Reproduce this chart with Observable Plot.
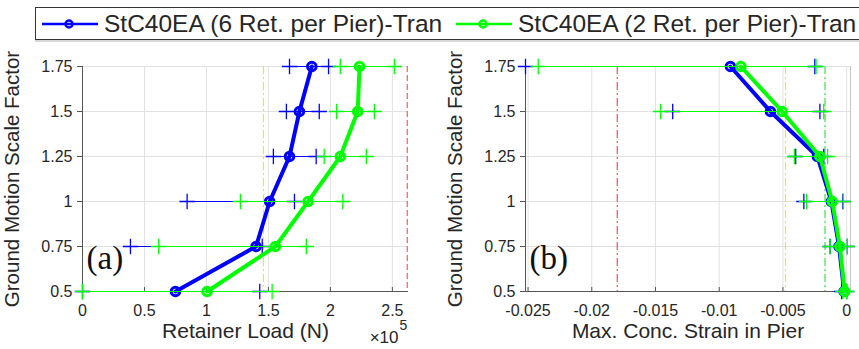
<!DOCTYPE html>
<html>
<head>
<meta charset="utf-8">
<script src="https://cdn.jsdelivr.net/npm/d3@7"></script>
<script src="https://cdn.jsdelivr.net/npm/@observablehq/plot@0.6"></script>
<style>
  body { margin: 0; background: #fff; }
  #wrap { position: relative; width: 859px; height: 349px; overflow: hidden; font-family: "Liberation Sans", Arial, sans-serif; }
  #legend { position: absolute; left: 35px; top: 7px; width: 860px; height: 31px; border: 1.5px solid #333; box-shadow: 0 2px 0 #d8d8d8; background: #fff; z-index: 2; }
  .item { position: absolute; top: 0; height: 31px; display: flex; align-items: center; font-size: 24.5px; color: #262626; white-space: nowrap; }
  .item svg { margin-right: 6px; }
  #left, #right { position: absolute; top: 40px; }
  #left { left: 0; }
  #right { left: 430px; }
</style>
</head>
<body>
<div id="wrap">
  <div id="legend"></div>
  <div id="left"></div>
  <div id="right"></div>
</div>
<script>
// ---------- data ----------
const scaleFactors = [0.5, 0.75, 1, 1.25, 1.5, 1.75];
const yTickLabels = ["0.5", "0.75", "1", "1.25", "1.5", "1.75"];
const seriesNames = ["StC40EA (6 Ret. per Pier)-Tran", "StC40EA (2 Ret. per Pier)-Tran"];
const seriesColors = ["#0000ff", "#00ff00"];

// Panel (a): retainer load (×10^5 N)
const loadMed6 = [0.75, 1.40, 1.51, 1.67, 1.75, 1.85];
const loadLo6  = [0.0, 0.387, 0.844, 1.54, 1.645, 1.67];
const loadHi6  = [1.43, 1.45, 1.71, 1.885, 1.91, 1.985];
const loadMed2 = [1.005, 1.556, 1.82, 2.08, 2.22, 2.235];
const loadLo2  = [0.0, 0.615, 1.274, 1.95, 2.05, 2.08];
const loadHi2  = [1.53, 1.806, 2.10, 2.29, 2.355, 2.516];
const loadRefValues = [1.46, 2.62];
const loadRefColors = ["#e8e830", "#ff5a5a"];
const loadRefDash = ["8,3,2,3", "6,3"];
const loadTicks = [0, 0.5, 1, 1.5, 2, 2.5];
const loadTickLabels = ["0", "0.5", "1", "1.5", "2", "2.5"];

// Panel (b): max concrete strain in pier
const strainMed6 = [-0.0002, -0.0006, -0.0012, -0.0023, -0.00598, -0.00912];
const strainLo6  = [-0.0004, -0.0013, -0.00336, -0.0040, -0.01365, -0.0252];
const strainHi6  = [0.0, 0.00005, -0.0003, -0.0018, -0.0021, -0.0025];
const strainMed2 = [-0.00016, -0.00053, -0.00113, -0.0021, -0.00506, -0.0083];
const strainLo2  = [-0.0003, -0.0013, -0.00315, -0.0041, -0.0146, -0.0242];
const strainHi2  = [0.0, 0.00005, -0.00026, -0.0015, -0.0018, -0.0024];
const strainRefValues = [-0.018, -0.0048, -0.0017];
const strainRefColors = ["#ff4a4a", "#e8e830", "#40e040"];
const strainRefDash = ["8,3,2,3", "8,3,2,3", "8,3,2,3"];
const strainTicks = [-0.025, -0.02, -0.015, -0.01, -0.005, 0];
const strainTickLabels = ["-0.025", "-0.02", "-0.015", "-0.01", "-0.005", "0"];

// ---------- legend ----------
const legend = document.getElementById("legend");
const legendX = [6, 420];
seriesNames.forEach((name, i) => {
  const item = document.createElement("div");
  item.className = "item";
  item.style.left = legendX[i] + "px";
  const c = seriesColors[i];
  item.innerHTML = `<svg width="56" height="12"><line x1="0" x2="56" y1="6" y2="6" stroke="${c}" stroke-width="2.5"/><circle cx="27" cy="6" r="3.5" fill="none" stroke="${c}" stroke-width="2.5"/></svg><span>${name}</span>`;
  legend.appendChild(item);
});

// ---------- panels ----------
function buildRows(med6, lo6, hi6, med2, lo2, hi2) {
  return scaleFactors.map((s, i) => ({ s, med6: med6[i], lo6: lo6[i], hi6: hi6[i], med2: med2[i], lo2: lo2[i], hi2: hi2[i] }));
}

function seriesMarks(rows, key, color) {
  return [
    Plot.ruleY(rows, { y: "s", x1: "lo" + key, x2: "hi" + key, stroke: color, strokeWidth: 1 }),
    Plot.dot(rows, { x: "lo" + key, y: "s", symbol: "plus", r: 5, stroke: color, strokeWidth: 1.3 }),
    Plot.dot(rows, { x: "hi" + key, y: "s", symbol: "plus", r: 5, stroke: color, strokeWidth: 1.3 }),
    Plot.line(rows, { x: "med" + key, y: "s", stroke: color, strokeWidth: 4, strokeLinejoin: "round" }),
    Plot.dot(rows, { x: "med" + key, y: "s", r: 4.3, stroke: color, strokeWidth: 3, fill: "none" })
  ];
}

function panel({ xDomain, xTicks, xTickLabels, xTitle, tag, width, marginLeft, marginRight, rows, refValues, refColors, refDash, rightBorder, extra }) {
  return Plot.plot({
    width, height: 309,
    marginLeft, marginRight, marginTop: 26, marginBottom: 58,
    x: { domain: xDomain },
    y: { domain: [0.5, 1.75] },
    style: { fontFamily: "Liberation Sans, Arial, sans-serif", fontSize: "16px", color: "#262626", background: "transparent", overflow: "visible" },
    marks: [
      Plot.gridX(xTicks, { stroke: "#e2e2e2", strokeOpacity: 1 }),
      Plot.gridY(scaleFactors, { stroke: "#e2e2e2", strokeOpacity: 1 }),
      ...refValues.map((v, i) => Plot.ruleX([v], { stroke: refColors[i], strokeWidth: 1.2, strokeDasharray: refDash[i] })),
      rightBorder ? Plot.ruleX([xDomain[1]], { stroke: "#c8c8c8" }) : null,
      Plot.ruleX([xDomain[0]], { stroke: "#555" }),
      Plot.ruleY([0.5], { stroke: "#555" }),
      Plot.tickX(xTicks, { x: d => d, insetTop: 221, stroke: "#555" }),
      Plot.axisX({ ticks: xTicks, tickFormat: d => xTickLabels[xTicks.indexOf(d)], tickSize: 0, tickPadding: 13, label: null }),
      Plot.axisY({ ticks: scaleFactors, tickFormat: d => yTickLabels[scaleFactors.indexOf(d)], tickSize: 5, tickPadding: 5, stroke: "#555", label: null }),
      ...seriesMarks(rows, "6", seriesColors[0]),
      ...seriesMarks(rows, "2", seriesColors[1]),
      Plot.text([tag], { frameAnchor: "bottom-left", textAnchor: "start", dx: 4, dy: -23, fontSize: 33, fontFamily: "Liberation Serif, Times New Roman, serif", fill: "#111" }),
      Plot.text([xTitle], { frameAnchor: "bottom", dy: 46, fontSize: 21, fill: "#262626" }),
      Plot.text(["Ground Motion Scale Factor"], { frameAnchor: "left", textAnchor: "middle", rotate: -90, dx: -70, fontSize: 20.5, fill: "#262626" }),
      ...(extra || [])
    ]
  });
}

const rowsA = buildRows(loadMed6, loadLo6, loadHi6, loadMed2, loadLo2, loadHi2);
const rowsB = buildRows(strainMed6, strainLo6, strainHi6, strainMed2, strainLo2, strainHi2);

document.getElementById("left").appendChild(panel({
  xDomain: [0, 2.63], xTicks: loadTicks, xTickLabels: loadTickLabels,
  xTitle: "Retainer Load (N)", tag: "(a)",
  width: 430, marginLeft: 82, marginRight: 22, rows: rowsA,
  refValues: loadRefValues, refColors: loadRefColors, refDash: loadRefDash, rightBorder: false,
  extra: [
    Plot.text(["×10"], { frameAnchor: "bottom-right", textAnchor: "end", dx: -10, dy: 51, fontSize: 17, fill: "#262626" }),
    Plot.text(["5"], { frameAnchor: "bottom-right", textAnchor: "start", dx: -9, dy: 38, fontSize: 14, fill: "#262626" })
  ]
}));

document.getElementById("right").appendChild(panel({
  xDomain: [-0.0252, 0.0003], xTicks: strainTicks, xTickLabels: strainTickLabels,
  xTitle: "Max. Conc. Strain in Pier", tag: "(b)",
  width: 429, marginLeft: 95, marginRight: 9, rows: rowsB,
  refValues: strainRefValues, refColors: strainRefColors, refDash: strainRefDash, rightBorder: true
}));
</script>
</body>
</html>
